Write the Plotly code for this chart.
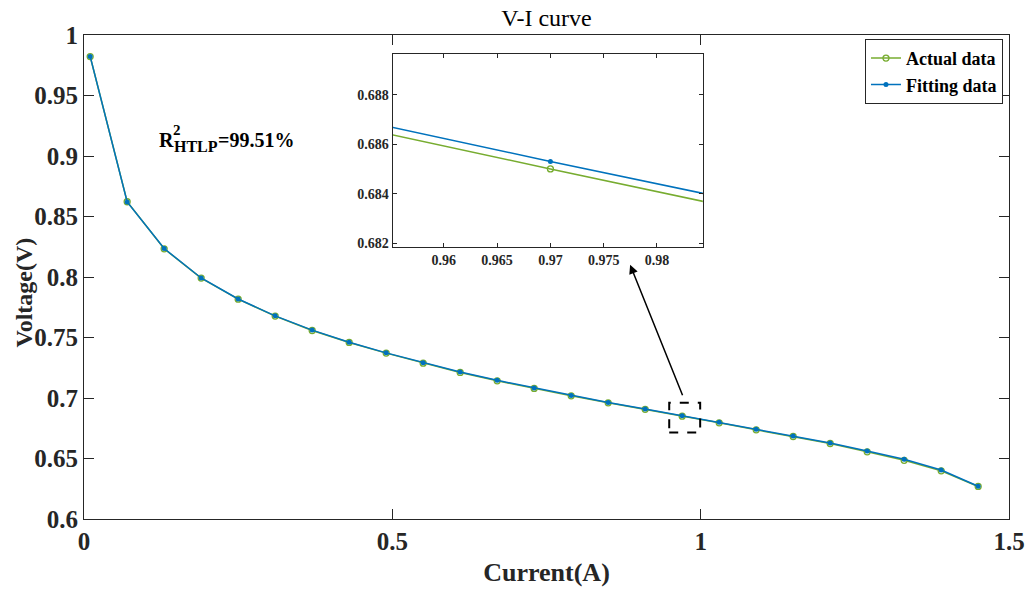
import plotly.graph_objects as go

current = [0.01, 0.07, 0.13, 0.19, 0.25, 0.31, 0.37, 0.43, 0.49, 0.55, 0.61, 0.67, 0.73,
           0.79, 0.85, 0.91, 0.97, 1.03, 1.09, 1.15, 1.21, 1.27, 1.33, 1.39, 1.45]
actual_v = [0.9822, 0.8622, 0.8233, 0.7991, 0.7817, 0.7677, 0.7558, 0.7459, 0.7371, 0.7288,
            0.7211, 0.7142, 0.7079, 0.7018, 0.6960, 0.6906, 0.6850, 0.6795, 0.6737, 0.6682,
            0.6624, 0.6555, 0.6485, 0.6398, 0.6269]
fitting_v = [0.9823, 0.8620, 0.8235, 0.7992, 0.7818, 0.7679, 0.7561, 0.7461, 0.7373, 0.7292,
             0.7215, 0.7146, 0.7083, 0.7021, 0.6963, 0.6909, 0.6853, 0.6799, 0.6741, 0.6686,
             0.6628, 0.6562, 0.6494, 0.6405, 0.6271]

x_ticks = [0, 0.5, 1, 1.5]
y_ticks = [0.6, 0.65, 0.7, 0.75, 0.8, 0.85, 0.9, 0.95, 1]
inset_x_ticks = [0.96, 0.965, 0.97, 0.975, 0.98]
inset_y_ticks = [0.682, 0.684, 0.686, 0.688]

GREEN = "#77AC30"
BLUE = "#0072BD"
AX = "#262626"
FAM = "Liberation Serif"

fig = go.Figure()
for xa, ya, show in [("x", "y", True), ("x2", "y2", False)]:
    fig.add_trace(go.Scatter(x=current, y=actual_v, name="Actual data", mode="lines+markers",
                             line=dict(color=GREEN, width=1.5),
                             marker=dict(symbol="circle-open", size=6, color=GREEN, line=dict(width=1.3)),
                             xaxis=xa, yaxis=ya, showlegend=show))
    fig.add_trace(go.Scatter(x=current, y=fitting_v, name="Fitting data", mode="lines+markers",
                             line=dict(color=BLUE, width=1.5),
                             marker=dict(symbol="circle", size=5, color=BLUE),
                             xaxis=xa, yaxis=ya, showlegend=show))

tickfont = dict(family=FAM, size=25, color=AX, weight="bold")
inset_font = dict(family=FAM, size=14, color=AX, weight="bold")
common = dict(showline=True, linecolor=AX, linewidth=1, mirror="ticks", ticks="inside",
              tickcolor=AX, showgrid=False, zeroline=False, automargin=False)

fig.update_layout(
    width=1028, height=592,
    margin=dict(l=84, r=19, t=35, b=73),
    paper_bgcolor="white", plot_bgcolor="white",
    title=dict(text="V-I curve", x=0.5, xref="paper", y=1 - 18 / 592, yref="container",
               xanchor="center", yanchor="middle",
               font=dict(family=FAM, size=24, color="black")),
    xaxis=dict(range=[0, 1.5], tickvals=x_ticks, ticktext=[str(v) for v in x_ticks],
               ticklen=10, tickfont=tickfont,
               title=dict(text="Current(A)", font=dict(family=FAM, size=26, color=AX, weight="bold"),
                          standoff=8), **common),
    yaxis=dict(range=[0.6, 1], tickvals=y_ticks, ticktext=[("%g" % v) for v in y_ticks],
               ticklen=10, tickfont=tickfont, **common),
    xaxis2=dict(domain=[0.3337, 0.669], anchor="y2", range=[0.9552, 0.9843],
                tickvals=inset_x_ticks, ticktext=[("%g" % v) for v in inset_x_ticks],
                ticklen=4, tickfont=inset_font, **common),
    yaxis2=dict(domain=[0.5624, 0.9612], anchor="x2", range=[0.68185, 0.68966],
                tickvals=inset_y_ticks, ticktext=[("%g" % v) for v in inset_y_ticks],
                ticklen=4, tickfont=inset_font, **common),
    legend=dict(x=0.9935, y=0.992, xanchor="right", yanchor="top",
                bgcolor="white", bordercolor=AX, borderwidth=1,
                font=dict(family=FAM, size=18, color="black", weight="bold"),
                itemwidth=30, tracegroupgap=0),
    showlegend=True,
)

# y-axis title placed close to the tick labels as in the reference
fig.add_annotation(x=-0.0654, y=0.467, xref="paper", yref="paper", xanchor="center", yanchor="middle",
                   text="Voltage(V)", textangle=-90, showarrow=False,
                   font=dict(family=FAM, size=24, color=AX, weight="bold"))

fig.add_shape(type="rect", xref="x", yref="y", x0=0.949, x1=0.9992, y0=0.6715, y1=0.696,
              line=dict(color="black", width=2, dash="dash"), layer="above")

fig.add_annotation(x=0.8856, y=0.8101, ax=0.9716, ay=0.701, xref="x", yref="y",
                   axref="x", ayref="y", text="", showarrow=True, arrowhead=2,
                   arrowsize=1.2, arrowwidth=1.5, arrowcolor="black")

# R^2 label pieces
label_font = dict(family=FAM, color="black", weight="bold")
fig.add_annotation(x=0.1193, y=0.9134, xref="x", yref="y", xanchor="left", yanchor="middle",
                   text="R", showarrow=False, borderpad=0, font=dict(size=20, **label_font))
fig.add_annotation(x=0.1420, y=0.9215, xref="x", yref="y", xanchor="left", yanchor="middle",
                   text="2", showarrow=False, borderpad=0, font=dict(size=15, **label_font))
fig.add_annotation(x=0.1437, y=0.9080, xref="x", yref="y", xanchor="left", yanchor="middle",
                   text="HTLP", showarrow=False, borderpad=0, font=dict(size=16, **label_font))
fig.add_annotation(x=0.2150, y=0.9134, xref="x", yref="y", xanchor="left", yanchor="middle",
                   text="=99.51%", showarrow=False, borderpad=0, font=dict(size=20, **label_font))

fig.write_html("out.html")
